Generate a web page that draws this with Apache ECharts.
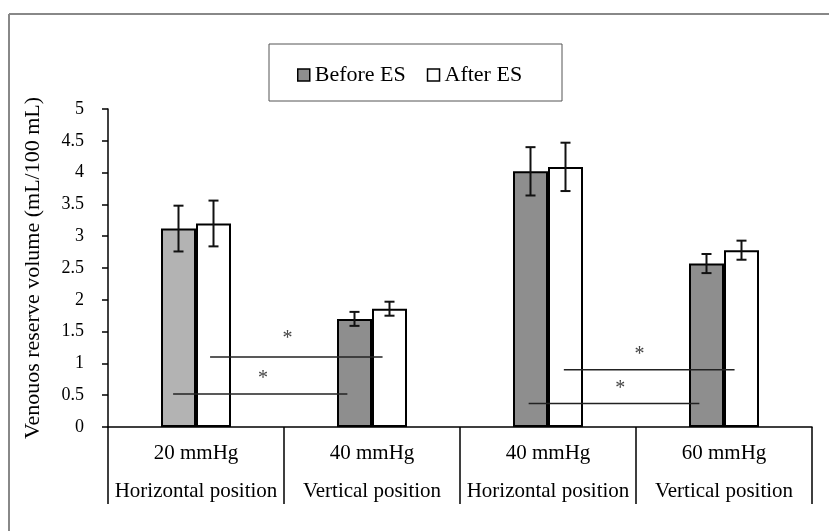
<!DOCTYPE html>
<html>
<head>
<meta charset="utf-8">
<script src="https://cdn.jsdelivr.net/npm/echarts@6/dist/echarts.min.js"></script>
<style>html,body{margin:0;padding:0;background:#fff}#c{width:829px;height:531px}</style>
</head>
<body>
<div id="c"></div>
<script>
// ---- data ----
const pressures = ['20 mmHg', '40 mmHg', '40 mmHg', '60 mmHg'];
const positions = ['Horizontal position', 'Vertical position', 'Horizontal position', 'Vertical position'];
const beforeES = [3.12, 1.70, 4.02, 2.57];
const beforeErr = [0.36, 0.11, 0.38, 0.15];
const afterES = [3.20, 1.86, 4.09, 2.78];
const afterErr = [0.36, 0.11, 0.38, 0.15];
const yTicks = [0, 0.5, 1, 1.5, 2, 2.5, 3, 3.5, 4, 4.5, 5];
// significance brackets (x in category units, category i centred at i)
const sigFrom = [-0.13, 0.08, 1.89, 2.09];
const sigTo = [0.86, 1.06, 2.86, 3.06];
const sigY = [0.52, 1.10, 0.37, 0.90];
const starX = [0.38, 0.52, 2.41, 2.52];
const starY = [0.76, 1.38, 0.60, 1.13];

const categories = pressures.map((p, i) => p + '\n' + positions[i]);
const FONT = '"Liberation Serif", "Times New Roman", serif';
const BAR_W = 35;

function errSeries(name, vals, errs, side) {
  return {
    name: name + ' err', type: 'custom', xAxisIndex: 0, yAxisIndex: 0, z: 5,
    data: vals.map((v, i) => [i, v - errs[i], v + errs[i]]),
    encode: { x: 0, y: [1, 2] },
    renderItem: function (params, api) {
      const lo = api.coord([api.value(0), api.value(1)]);
      const hi = api.coord([api.value(0), api.value(2)]);
      const x = lo[0] + side * BAR_W / 2;
      const cap = 5;
      const st = { stroke: '#111', lineWidth: 2 };
      return { type: 'group', children: [
        { type: 'line', shape: { x1: x, y1: lo[1], x2: x, y2: hi[1] }, style: st },
        { type: 'line', shape: { x1: x - cap, y1: lo[1], x2: x + cap, y2: lo[1] }, style: st },
        { type: 'line', shape: { x1: x - cap, y1: hi[1], x2: x + cap, y2: hi[1] }, style: st }
      ]};
    }
  };
}

const chart = echarts.init(document.getElementById('c'), null, { renderer: 'canvas' });
chart.setOption({
  backgroundColor: '#fff',
  animation: false,
  grid: { left: 108, right: 17, top: 109, bottom: 104, containLabel: false },
  legend: {
    left: 297, top: 64, padding: 0, itemWidth: 12, itemHeight: 12, itemGap: 21,
    icon: 'rect',
    data: ['Before ES', 'After ES'],
    itemStyle: { borderColor: '#000', borderWidth: 1.5 },
    textStyle: { fontFamily: FONT, fontSize: 22, color: '#000' }
  },
  xAxis: [{
    type: 'category', data: categories, boundaryGap: true,
    axisLine: { onZero: false, lineStyle: { color: '#000', width: 1.5 } },
    axisTick: { show: true, interval: 0, length: 77, lineStyle: { color: '#000', width: 1.5 } },
    axisLabel: { interval: 0, margin: 7, fontFamily: FONT, fontSize: 21, color: '#000', lineHeight: 38 },
    splitLine: { show: false }
  }, {
    type: 'value', min: -0.5, max: 3.5, show: false
  }],
  yAxis: {
    type: 'value', min: yTicks[0], max: yTicks[yTicks.length - 1], interval: yTicks[1] - yTicks[0],
    name: 'Venouos reserve volume (mL/100 mL)', nameLocation: 'middle', nameRotate: 90, nameGap: 64,
    nameTextStyle: { fontFamily: FONT, fontSize: 22, color: '#000' },
    axisLine: { show: true, onZero: false, lineStyle: { color: '#000', width: 1.5 } },
    axisTick: { show: true, length: 6, lineStyle: { color: '#000', width: 1.5 } },
    axisLabel: { margin: 24, fontFamily: FONT, fontSize: 18, color: '#000' },
    splitLine: { show: false }
  },
  series: [
    {
      name: 'Before ES', type: 'bar', barWidth: BAR_W, barGap: '0%', z: 2,
      itemStyle: { color: '#8e8e8e', borderColor: '#000', borderWidth: 2 },
      data: beforeES.map((v, i) => i === 0 ? { value: v, itemStyle: { color: '#b3b3b3' } } : v)
    },
    {
      name: 'After ES', type: 'bar', barWidth: BAR_W, barGap: '0%', z: 2,
      itemStyle: { color: '#fff', borderColor: '#000', borderWidth: 2 },
      data: afterES
    },
    errSeries('Before ES', beforeES, beforeErr, -1),
    errSeries('After ES', afterES, afterErr, 1),
    {
      type: 'custom', xAxisIndex: 1, yAxisIndex: 0, z: 6,
      data: sigY.map((y, i) => [sigFrom[i], sigTo[i], y]),
      encode: { x: [0, 1], y: 2 },
      renderItem: function (params, api) {
        const a = api.coord([api.value(0), api.value(2)]);
        const b = api.coord([api.value(1), api.value(2)]);
        return { type: 'line', shape: { x1: a[0], y1: a[1], x2: b[0], y2: b[1] }, style: { stroke: '#222', lineWidth: 1.5 } };
      }
    },
    {
      type: 'custom', xAxisIndex: 1, yAxisIndex: 0, z: 6,
      data: starX.map((x, i) => [x, starY[i]]),
      encode: { x: 0, y: 1 },
      renderItem: function (params, api) {
        const p = api.coord([api.value(0), api.value(1)]);
        return { type: 'text', x: p[0], y: p[1], style: { text: '*', align: 'center', verticalAlign: 'middle', fontFamily: FONT, fontSize: 20, fill: '#444' } };
      }
    }
  ],
  graphic: [
    { type: 'rect', shape: { x: 269, y: 44, width: 293, height: 57 }, style: { fill: 'none', stroke: '#555', lineWidth: 1 }, z: 0 },
    { type: 'line', shape: { x1: 9, y1: 14, x2: 829, y2: 14 }, style: { stroke: '#888', lineWidth: 2 } },
    { type: 'line', shape: { x1: 9, y1: 14, x2: 9, y2: 531 }, style: { stroke: '#888', lineWidth: 2 } }
  ]
});
</script>
</body>
</html>
